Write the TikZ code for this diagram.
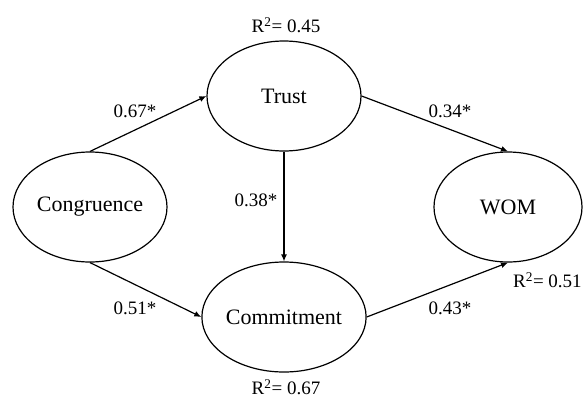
\documentclass[tikz,border=0pt]{standalone}
\usepackage{fontspec}
\setmainfont{Liberation Serif}
\usetikzlibrary{shapes.geometric,arrows.meta}
\begin{document}
\begin{tikzpicture}[x=1pt,y=-1pt,
  construct/.style={draw, ellipse, line width=1.2pt, minimum width=154pt, minimum height=110pt, inner sep=0pt, font=\fontsize{22}{26}\selectfont},
  path/.style={draw, line width=1.2pt, -{Latex[length=7pt,width=6pt]}},
  lab/.style={font=\fontsize{19}{22}\selectfont, inner sep=0pt}]
\useasboundingbox (0,0) rectangle (586,397);
\node[construct] (trust) at (284,96) {Trust};
\node[construct] (cong) at (90,207) {Congruence};
\node[construct] (comm) at (284,317) {Commitment};
\node[construct, minimum width=148pt] (wom) at (508,207) {WOM};
\draw[path] (cong.north) -- (trust.west);
\draw[path] (trust.east) -- (wom.north);
\draw[path] (trust.south) -- (comm.north);
\draw[path] (cong.south) -- (comm.west);
\draw[path] (comm.east) -- (wom.south);
\node[lab] (l1) at (135,111) {0.67*};
\node[lab] (l2) at (450,111) {0.34*};
\node[lab] (l3) at (256,200) {0.38*};
\node[lab] (l4) at (135,308) {0.51*};
\node[lab] (l5) at (450,308) {0.43*};
\node[lab] (r1) at (286,25) {R\textsuperscript{2}= 0.45};
\node[lab] (r2) at (286,387) {R\textsuperscript{2}= 0.67};
\node[lab, anchor=west] (r3) at (513,280) {R\textsuperscript{2}= 0.51};
\end{tikzpicture}
\end{document}
